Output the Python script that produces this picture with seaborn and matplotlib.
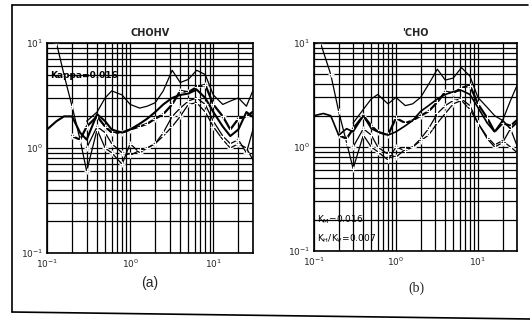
import numpy as np
import pandas as pd
import matplotlib
matplotlib.use("Agg")
import matplotlib.pyplot as plt
from matplotlib.lines import Line2D
from matplotlib.ticker import LogLocator, NullFormatter, FixedLocator
import seaborn as sns

sns.set_style("white")
plt.rcParams['font.family'] = ['DejaVu Sans']

# ---------------- data ----------------
titles = ["CHOHV", "'CHO"]
captions = ["(a)", "(b)"]
x_ticks = [0.1, 1.0, 10.0]
x_tick_labels = [r"$10^{-1}$", r"$10^{0}$", r"$10^{1}$"]
y_ticks = [0.1, 1.0, 10.0]
y_tick_labels = [r"$10^{-1}$", r"$10^{0}$", r"$10^{1}$"]

f_common = [0.3, 0.4, 0.5, 0.6, 0.8, 1.0, 1.3, 1.6, 2.0, 2.5, 3.2, 4.0, 5.0,
            6.3, 8.0, 10, 13, 16, 20, 25, 32]
f_steep_a = [0.13, 0.16, 0.2, 0.25] + f_common
f_steep_b = [0.12, 0.16, 0.2, 0.25] + f_common
f_mid = [0.2, 0.25] + f_common
f_left = [0.1, 0.13, 0.16, 0.2, 0.25] + f_common

# panel (a)
a_steep = [10, 5, 2.5, 1.2, 0.6, 1.5, 1.0, 0.9, 0.7, 1.1, 0.9, 1.0, 1.1, 1.3, 1.6,
           2.0, 2.6, 2.7, 2.2, 1.6, 1.2, 1.0, 1.1, 1.0, 0.7]
a_mid = [1.3, 1.2, 1.6, 2.0, 1.6, 1.4, 1.4, 1.5, 1.6, 1.7, 1.9, 2.1, 2.6, 3.5, 3.4,
         3.8, 4.0, 2.6, 2.0, 1.5, 1.9, 2.0, 2.3]
a_top = [1.8, 2.2, 3.0, 3.5, 3.2, 2.6, 2.4, 2.5, 2.7, 3.5, 5.5, 4.2, 4.5, 5.5, 5.0,
         3.2, 2.6, 2.8, 3.0, 2.5, 4.0]
a_left = [1.5, 1.8, 2.0, 2.0, 1.4, 1.2, 2.1, 1.8, 1.5, 1.4, 1.5, 1.7, 1.9, 2.2, 2.6,
          3.0, 3.2, 3.3, 3.6, 3.0, 2.2, 1.6, 1.3, 1.5, 2.2, 1.9]
a_low = [1.0, 1.6, 1.4, 1.1, 0.9, 0.85, 0.95, 1.0, 1.1, 1.4, 2.0, 2.4, 2.8, 3.0,
         2.6, 1.8, 1.3, 1.1, 1.2, 0.9, 1.8]

# panel (b)
b_steep = [10, 5, 2.2, 1.1, 0.62, 1.3, 1.0, 0.9, 0.75, 1.0, 0.92, 1.0, 1.15, 1.3,
           1.7, 2.1, 2.6, 2.8, 2.3, 1.7, 1.25, 1.05, 1.15, 1.0, 0.85]
b_mid = [1.3, 1.2, 1.5, 2.0, 1.6, 1.4, 1.3, 1.9, 1.7, 1.8, 2.0, 2.2, 2.7, 3.4, 3.3,
         3.7, 3.9, 2.6, 1.9, 1.4, 1.7, 1.6, 1.9]
b_top = [1.7, 2.3, 2.9, 3.2, 2.6, 3.0, 2.5, 2.6, 3.0, 4.0, 5.6, 4.4, 4.6, 5.8, 4.8,
         3.0, 2.4, 2.0, 1.8, 2.8, 4.4]
b_left = [2.0, 2.1, 2.0, 1.3, 1.5, 1.4, 2.0, 1.5, 1.4, 1.3, 1.4, 1.6, 1.8, 2.2, 2.5,
          2.9, 3.2, 3.4, 3.5, 3.2, 2.4, 1.7, 1.4, 1.8, 1.5, 1.8]
b_low = [1.0, 1.5, 1.3, 1.0, 0.85, 0.8, 0.95, 1.0, 1.2, 1.5, 2.1, 2.5, 2.8, 2.9,
         2.5, 1.7, 1.2, 1.0, 1.1, 1.5, 0.9]

panels = [
    [(f_steep_a, a_steep, 0.9, True), (f_mid, a_mid, 1.6, True),
     (f_common, a_top, 0.9, False), (f_left, a_left, 1.5, False),
     (f_common, a_low, 0.9, True)],
    [(f_steep_b, b_steep, 0.9, True), (f_mid, b_mid, 1.6, True),
     (f_common, b_top, 0.9, False), (f_left, b_left, 1.2, False),
     (f_common, b_low, 0.9, True)],
]

# ---------------- figure ----------------
W, H = 530, 322
fig = plt.figure(figsize=(W / 100, H / 100), dpi=100)
ax_boxes = [(47, 43, 253, 253), (314, 43, 517, 251)]

for i, (box, curves) in enumerate(zip(ax_boxes, panels)):
    x0, y0, x1, y1 = box
    ax = fig.add_axes([x0 / W, 1 - y1 / H, (x1 - x0) / W, (y1 - y0) / H])
    for fx, vals, lw, mk in curves:
        df = pd.DataFrame({"f": fx, "v": vals})
        sns.lineplot(data=df, x="f", y="v", ax=ax, color="black", linewidth=lw,
                     marker="+" if mk else None, markersize=4,
                     markeredgewidth=0.8, estimator=None, sort=False)
    ax.set_xscale("log")
    ax.set_yscale("log")
    ax.set_xlim(0.1, 30)
    ax.set_ylim(0.1, 10)
    ax.xaxis.set_major_locator(FixedLocator(x_ticks))
    ax.yaxis.set_major_locator(FixedLocator(y_ticks))
    ax.set_xticklabels(x_tick_labels)
    ax.set_yticklabels(y_tick_labels)
    ax.xaxis.set_minor_locator(LogLocator(base=10, subs=np.arange(2, 10)))
    ax.yaxis.set_minor_locator(LogLocator(base=10, subs=np.arange(2, 10)))
    ax.xaxis.set_minor_formatter(NullFormatter())
    ax.yaxis.set_minor_formatter(NullFormatter())
    ax.grid(True, which="both", color="black", linewidth=0.9)
    ax.tick_params(which="both", length=0, labelsize=6.5, pad=3)
    for lab in ax.get_xticklabels() + ax.get_yticklabels():
        lab.set_fontweight("bold")
    for sp in ax.spines.values():
        sp.set_color("black")
        sp.set_linewidth(1.2)
    ax.set_xlabel("")
    ax.set_ylabel("")
    ax.set_title(titles[i], fontsize=7, fontweight="bold", pad=5)

    if i == 0:
        ax.text(0.11, 4.9, "Kappa=0.016", fontsize=6.5, fontweight="bold",
                va="center", ha="left", color="black")
    else:
        ax.text(0.11, 0.2, r"K$_{\rm M}$=0.016", fontsize=6.5, va="center",
                ha="left", color="black")
        ax.text(0.11, 0.13, r"K$_{\rm H}$/K$_{\rm V}$=0.007", fontsize=6.5,
                va="center", ha="left", color="black")

fig.text(150 / W, 1 - 283 / H, captions[0], fontsize=10, ha="center", va="center",
         family="Liberation Sans")
fig.text(416 / W, 1 - 288 / H, captions[1], fontsize=10, ha="center", va="center",
         family="Liberation Serif")

# outer frame: left, top and bottom edges (no right edge in the scan)
def px(x, y):
    return x / W, 1 - y / H

for (xa, ya), (xb, yb) in [((12, 5), (528, 5)), ((12, 5), (12, 312)),
                           ((12, 312), (530, 319))]:
    (fx0, fy0), (fx1, fy1) = px(xa, ya), px(xb, yb)
    fig.add_artist(Line2D([fx0, fx1], [fy0, fy1], transform=fig.transFigure,
                          color="black", linewidth=1.2))

fig.savefig("out.png", dpi=100, facecolor="white")
